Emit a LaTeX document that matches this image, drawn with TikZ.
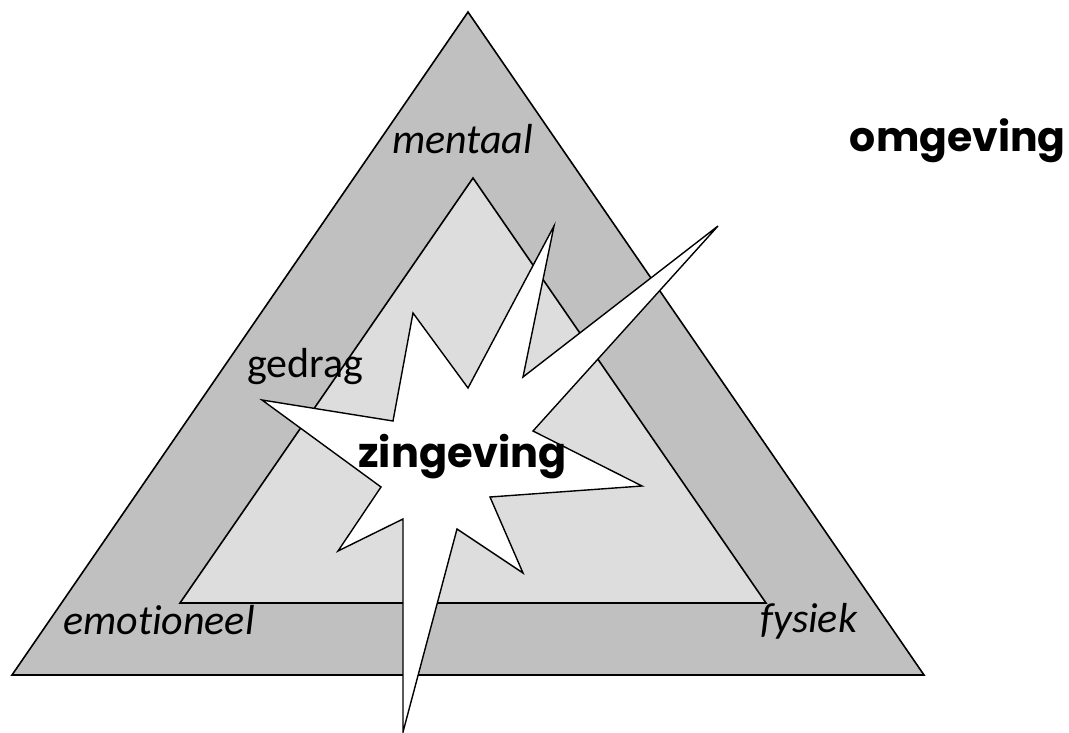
\documentclass[tikz,border=0pt]{standalone}
\usepackage{fontspec}
\setmainfont{Carlito}[Ligatures=CommonOff]
\newfontfamily\geofont{Poppins}
\definecolor{outergray}{HTML}{C0C0C0}
\definecolor{innergray}{HTML}{DDDDDD}
\begin{document}
\begin{tikzpicture}[x=1pt,y=-1pt,
  tri/.style={draw=black,line width=1.6pt,line join=miter},
  lbl/.style={inner sep=0pt,anchor=base west,font=\fontsize{42}{50}\selectfont},
  ilbl/.style={lbl,font=\itshape\fontsize{42}{50}\selectfont},
  bold/.style={inner sep=0pt,anchor=base west,font=\geofont\bfseries\fontsize{41.5}{50}\selectfont}]
\useasboundingbox (0,0) rectangle (1069,733);
% outer triangle
\filldraw[tri,fill=outergray] (468,12) -- (924,675) -- (12,675) -- cycle;
% inner triangle
\filldraw[tri,fill=innergray] (473,178) -- (766,603) -- (180,603) -- cycle;
% labels
\node[ilbl] (mentaal) at (392,154) {mentaal};
\node[lbl] (gedrag) at (247,377) {gedrag};
\node[ilbl] (emotioneel) at (63,634) {emotioneel};
\node[ilbl] (fysiek) at (760,632) {fysiek};
\node[bold,anchor=base east,font=\geofont\bfseries\fontsize{41}{50}\selectfont] (omgeving) at (1066,152) {omgeving};
% starburst
\filldraw[tri,fill=white,line width=1.4pt]
  (554,226) -- (523,377) -- (718,226) -- (533,431) -- (642,486) -- (490,497)
  -- (523,573) -- (457,529) -- (403,732) -- (403,519) -- (338,551) -- (381,487)
  -- (262,400) -- (393,421) -- (413,313) -- (468,388) -- cycle;
\node[bold] (zingeving) at (358,467) {zingeving};
\end{tikzpicture}
\end{document}
